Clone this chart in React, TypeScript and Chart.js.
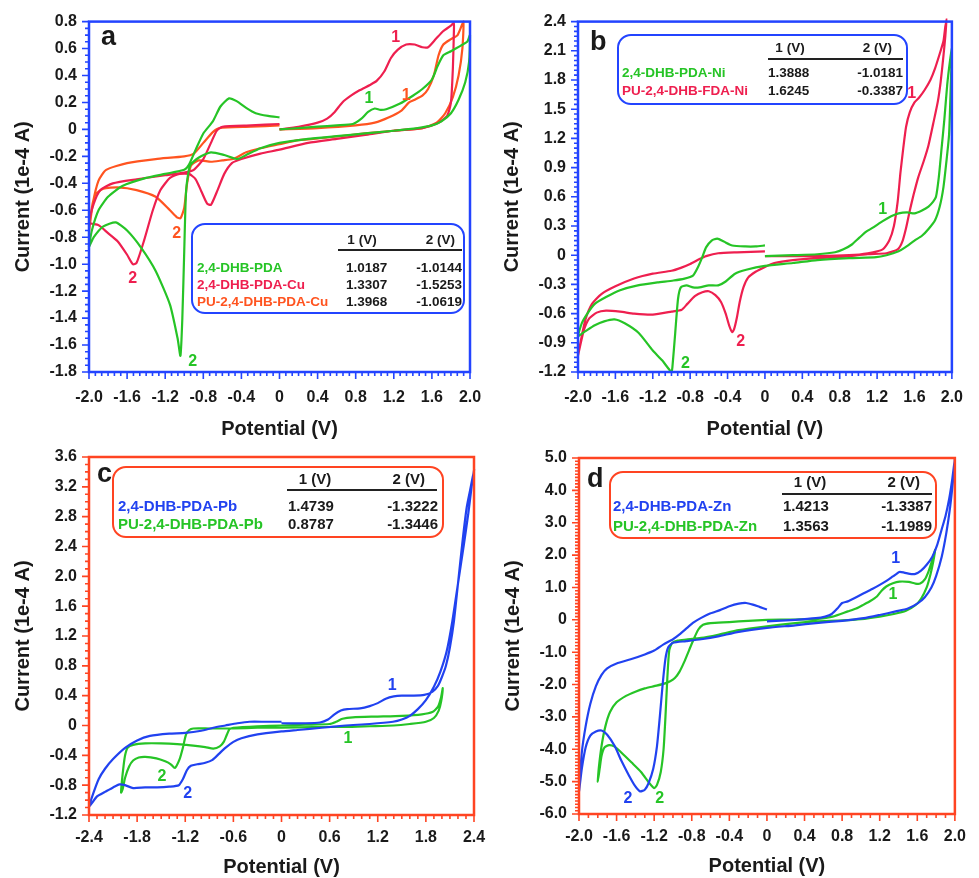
import { useEffect, useRef } from "react";
import { Chart, registerables } from "chart.js";

Chart.register(...registerables);

type Pt = [number, number];

const FONT = "'Liberation Sans', Arial, Helvetica, sans-serif";
const GREEN = "#26c426";
const RED = "#ee1f4f";
const ORANGE = "#ff5420";
const BLUE = "#2142f0";
const FRAME_BLUE = "#2344ff";
const FRAME_RED = "#ff4422";
const TEXT = "#1a1a1a";

// ---------- tick labels ----------
const A_X_TICKS = [-2.0, -1.6, -1.2, -0.8, -0.4, 0, 0.4, 0.8, 1.2, 1.6, 2.0];
const A_Y_TICKS = [-1.8, -1.6, -1.4, -1.2, -1.0, -0.8, -0.6, -0.4, -0.2, 0, 0.2, 0.4, 0.6, 0.8];
const B_X_TICKS = [-2.0, -1.6, -1.2, -0.8, -0.4, 0, 0.4, 0.8, 1.2, 1.6, 2.0];
const B_Y_TICKS = [-1.2, -0.9, -0.6, -0.3, 0, 0.3, 0.6, 0.9, 1.2, 1.5, 1.8, 2.1, 2.4];
const C_X_TICKS = [-2.4, -1.8, -1.2, -0.6, 0, 0.6, 1.2, 1.8, 2.4];
const C_Y_TICKS = [-1.2, -0.8, -0.4, 0, 0.4, 0.8, 1.2, 1.6, 2.0, 2.4, 2.8, 3.2, 3.6];
const D_X_TICKS = [-2.0, -1.6, -1.2, -0.8, -0.4, 0, 0.4, 0.8, 1.2, 1.6, 2.0];
const D_Y_TICKS = [-6, -5, -4, -3, -2, -1, 0, 1, 2, 3, 4, 5];

// ---------- legend tables ----------
const A_NAMES = ["2,4-DHB-PDA", "2,4-DHB-PDA-Cu", "PU-2,4-DHB-PDA-Cu"];
const A_PEAK1 = ["1.0187", "1.3307", "1.3968"];
const A_PEAK2 = ["-1.0144", "-1.5253", "-1.0619"];
const B_NAMES = ["2,4-DHB-PDA-Ni", "PU-2,4-DHB-FDA-Ni"];
const B_PEAK1 = ["1.3888", "1.6245"];
const B_PEAK2 = ["-1.0181", "-0.3387"];
const C_NAMES = ["2,4-DHB-PDA-Pb", "PU-2,4-DHB-PDA-Pb"];
const C_PEAK1 = ["1.4739", "0.8787"];
const C_PEAK2 = ["-1.3222", "-1.3446"];
const D_NAMES = ["2,4-DHB-PDA-Zn", "PU-2,4-DHB-PDA-Zn"];
const D_PEAK1 = ["1.4213", "1.3563"];
const D_PEAK2 = ["-1.3387", "-1.1989"];

// ---------- curves (potential V, current 1e-4 A) ----------
const A_PDA: Pt[] = [
  [0, 0.0], [0.2, 0.01], [0.4, 0.02], [0.6, 0.03], [0.77, 0.04], [0.86, 0.08], [0.93, 0.13], [1.0, 0.155],
  [1.06, 0.145], [1.12, 0.15], [1.26, 0.19], [1.4, 0.25], [1.5, 0.3], [1.6, 0.37], [1.66, 0.47], [1.72, 0.55],
  [1.8, 0.58], [1.9, 0.62], [1.97, 0.65], [2.0, 0.7],
  [1.99, 0.5], [1.95, 0.35], [1.88, 0.22], [1.8, 0.12], [1.7, 0.06], [1.6, 0.03], [1.45, 0.01], [1.2, -0.01],
  [0.9, -0.03], [0.6, -0.05], [0.3, -0.07], [0, -0.1], [-0.2, -0.14], [-0.35, -0.19], [-0.44, -0.22],
  [-0.58, -0.19], [-0.72, -0.17], [-0.85, -0.21], [-0.94, -0.27], [-0.98, -0.45], [-1.0, -0.9], [-1.02, -1.4],
  [-1.04, -1.68], [-1.07, -1.55], [-1.15, -1.3], [-1.3, -1.05], [-1.45, -0.88], [-1.6, -0.75], [-1.72, -0.69],
  [-1.85, -0.72], [-1.95, -0.8], [-2.0, -0.87],
  [-1.97, -0.75], [-1.9, -0.6], [-1.8, -0.5], [-1.65, -0.42], [-1.4, -0.36], [-1.2, -0.33], [-1.0, -0.3],
  [-0.95, -0.26], [-0.88, -0.15], [-0.8, -0.03], [-0.7, 0.06], [-0.62, 0.17], [-0.53, 0.23], [-0.45, 0.21],
  [-0.35, 0.16], [-0.25, 0.12], [-0.12, 0.1], [0, 0.09],
];
const A_CU: Pt[] = [
  [0, 0.0], [0.2, 0.02], [0.4, 0.05], [0.5, 0.08], [0.58, 0.13], [0.66, 0.2], [0.75, 0.25], [0.84, 0.29],
  [0.95, 0.33], [1.02, 0.36], [1.1, 0.43], [1.17, 0.53], [1.24, 0.59], [1.33, 0.63], [1.42, 0.63], [1.5, 0.61],
  [1.56, 0.61], [1.64, 0.67], [1.72, 0.73], [1.8, 0.77], [1.83, 0.79],
  [1.83, 0.7], [1.82, 0.45], [1.8, 0.2], [1.76, 0.1], [1.67, 0.05], [1.5, 0.01], [1.2, -0.01], [0.9, -0.04],
  [0.6, -0.07], [0.3, -0.1], [0, -0.15], [-0.2, -0.18], [-0.4, -0.22], [-0.5, -0.25], [-0.58, -0.33],
  [-0.65, -0.45], [-0.72, -0.56], [-0.76, -0.55], [-0.82, -0.46], [-0.88, -0.37], [-0.95, -0.33],
  [-1.05, -0.33], [-1.15, -0.36], [-1.25, -0.45], [-1.33, -0.6], [-1.42, -0.82], [-1.5, -0.99], [-1.54, -1.0],
  [-1.6, -0.93], [-1.7, -0.83], [-1.8, -0.77], [-1.9, -0.71], [-2.0, -0.69],
  [-1.95, -0.55], [-1.88, -0.45], [-1.75, -0.4], [-1.5, -0.37], [-1.2, -0.34], [-1.0, -0.32], [-0.9, -0.3],
  [-0.8, -0.22], [-0.72, -0.1], [-0.66, -0.01], [-0.6, 0.02], [-0.3, 0.03], [0, 0.04],
];
const A_PU_CU: Pt[] = [
  [0, 0.0], [0.4, 0.01], [0.8, 0.03], [1.0, 0.05], [1.15, 0.09], [1.28, 0.14], [1.36, 0.2], [1.42, 0.22],
  [1.5, 0.25], [1.56, 0.3], [1.62, 0.4], [1.67, 0.55], [1.72, 0.63], [1.8, 0.67], [1.87, 0.7], [1.93, 0.8],
  [1.92, 0.6], [1.88, 0.4], [1.82, 0.24], [1.74, 0.12], [1.65, 0.05], [1.5, 0.01], [1.2, -0.01], [0.9, -0.03],
  [0.5, -0.06], [0.2, -0.08], [0, -0.11], [-0.2, -0.14], [-0.35, -0.17], [-0.49, -0.22], [-0.6, -0.23],
  [-0.72, -0.24], [-0.85, -0.23], [-0.93, -0.27], [-0.97, -0.4], [-1.0, -0.58], [-1.04, -0.66], [-1.08, -0.65],
  [-1.15, -0.6], [-1.3, -0.5], [-1.5, -0.45], [-1.7, -0.43], [-1.85, -0.44], [-1.93, -0.48], [-1.97, -0.58],
  [-2.0, -0.76],
  [-1.96, -0.55], [-1.9, -0.38], [-1.82, -0.3], [-1.6, -0.25], [-1.3, -0.22], [-1.0, -0.2], [-0.9, -0.18],
  [-0.8, -0.1], [-0.7, -0.02], [-0.63, 0.01], [-0.3, 0.02], [0, 0.03],
];
const B_NI: Pt[] = [
  [0, -0.01], [0.3, 0.0], [0.56, 0.01], [0.75, 0.03], [0.84, 0.06], [0.93, 0.11], [1.01, 0.18], [1.08, 0.24],
  [1.15, 0.28], [1.26, 0.35], [1.35, 0.4], [1.43, 0.43], [1.52, 0.44], [1.6, 0.43], [1.68, 0.46], [1.75, 0.5],
  [1.8, 0.55], [1.83, 0.6], [1.86, 0.8], [1.89, 1.1], [1.92, 1.4], [1.95, 1.75], [1.98, 2.0], [2.0, 2.12],
  [1.99, 1.8], [1.97, 1.24], [1.94, 0.95], [1.91, 0.7], [1.87, 0.5], [1.82, 0.36], [1.75, 0.27], [1.68, 0.2],
  [1.6, 0.15], [1.5, 0.08], [1.43, 0.04], [1.3, 0.0], [1.19, -0.02], [0.9, -0.03], [0.56, -0.05], [0.3, -0.08],
  [0, -0.11], [-0.2, -0.15], [-0.32, -0.19], [-0.42, -0.27], [-0.5, -0.31], [-0.6, -0.31], [-0.7, -0.33],
  [-0.77, -0.33], [-0.84, -0.31], [-0.9, -0.33], [-0.93, -0.45], [-0.96, -0.8], [-0.99, -1.15], [-1.0, -1.2],
  [-1.1, -1.08], [-1.2, -0.98], [-1.35, -0.8], [-1.5, -0.7], [-1.61, -0.66], [-1.72, -0.68], [-1.82, -0.72],
  [-1.92, -0.78], [-2.0, -0.83],
  [-1.96, -0.7], [-1.9, -0.6], [-1.82, -0.5], [-1.7, -0.43], [-1.55, -0.36], [-1.36, -0.31], [-1.15, -0.28],
  [-0.98, -0.26], [-0.86, -0.24], [-0.77, -0.21], [-0.72, -0.13], [-0.67, -0.02], [-0.63, 0.08], [-0.57, 0.15],
  [-0.51, 0.17], [-0.44, 0.14], [-0.35, 0.1], [-0.21, 0.09], [-0.1, 0.09], [0, 0.1],
];
const B_PU_NI: Pt[] = [
  [0, -0.01], [0.3, -0.01], [0.56, -0.01], [0.9, 0.0], [1.1, 0.02], [1.26, 0.06], [1.33, 0.15], [1.38, 0.3],
  [1.42, 0.55], [1.45, 0.85], [1.48, 1.1], [1.51, 1.32], [1.55, 1.47], [1.6, 1.57], [1.65, 1.62], [1.71, 1.7],
  [1.77, 1.8], [1.82, 1.92], [1.87, 2.07], [1.91, 2.2], [1.93, 2.35], [1.94, 2.4],
  [1.93, 2.25], [1.91, 2.05], [1.88, 1.78], [1.85, 1.58], [1.8, 1.35], [1.75, 1.13], [1.7, 0.97], [1.64, 0.8],
  [1.59, 0.62], [1.55, 0.46], [1.51, 0.28], [1.47, 0.14], [1.42, 0.06], [1.3, 0.02], [1.1, 0.01], [0.8, -0.02],
  [0.56, -0.03], [0.3, -0.05], [0.1, -0.08], [0, -0.12], [-0.1, -0.17], [-0.18, -0.23], [-0.23, -0.33],
  [-0.27, -0.48], [-0.3, -0.64], [-0.33, -0.76], [-0.35, -0.79], [-0.38, -0.73], [-0.42, -0.6], [-0.47, -0.48],
  [-0.53, -0.41], [-0.6, -0.37], [-0.67, -0.38], [-0.75, -0.42], [-0.83, -0.5], [-0.89, -0.56], [-1.0, -0.58],
  [-1.2, -0.61], [-1.4, -0.6], [-1.55, -0.58], [-1.7, -0.57], [-1.8, -0.59], [-1.88, -0.65], [-1.94, -0.78],
  [-2.0, -1.03],
  [-1.97, -0.88], [-1.92, -0.66], [-1.85, -0.5], [-1.75, -0.4], [-1.6, -0.32], [-1.4, -0.24], [-1.2, -0.19],
  [-1.0, -0.16], [-0.9, -0.13], [-0.8, -0.09], [-0.7, -0.04], [-0.63, -0.01], [-0.5, 0.02], [-0.3, 0.03], [0, 0.04],
];
const C_PB: Pt[] = [
  [0, 0.03], [0.3, 0.03], [0.48, 0.04], [0.58, 0.08], [0.66, 0.15], [0.74, 0.2], [0.82, 0.22], [0.98, 0.23],
  [1.1, 0.26], [1.2, 0.3], [1.3, 0.36], [1.4, 0.39], [1.5, 0.4], [1.65, 0.4], [1.78, 0.41], [1.88, 0.45],
  [1.95, 0.53], [2.0, 0.65], [2.05, 0.8], [2.1, 1.05], [2.15, 1.4], [2.2, 1.9], [2.26, 2.5], [2.31, 2.93],
  [2.36, 3.2], [2.4, 3.42],
  [2.37, 3.2], [2.33, 2.85], [2.27, 2.4], [2.2, 1.9], [2.13, 1.4], [2.06, 1.0], [1.98, 0.72], [1.9, 0.52],
  [1.8, 0.34], [1.7, 0.22], [1.6, 0.13], [1.5, 0.08], [1.39, 0.05], [1.1, 0.02], [0.8, 0.0], [0.5, -0.03],
  [0.2, -0.06], [0, -0.08], [-0.3, -0.12], [-0.5, -0.17], [-0.6, -0.22], [-0.7, -0.3], [-0.78, -0.38],
  [-0.86, -0.46], [-0.95, -0.5], [-1.05, -0.52], [-1.13, -0.54], [-1.18, -0.6], [-1.23, -0.72], [-1.28, -0.8],
  [-1.4, -0.82], [-1.55, -0.83], [-1.7, -0.83], [-1.85, -0.84], [-1.95, -0.8], [-2.02, -0.79], [-2.1, -0.83],
  [-2.2, -0.89], [-2.3, -0.95], [-2.4, -1.09],
  [-2.35, -0.92], [-2.28, -0.72], [-2.2, -0.58], [-2.1, -0.45], [-1.95, -0.3], [-1.8, -0.2], [-1.64, -0.14],
  [-1.4, -0.11], [-1.2, -0.1], [-1.0, -0.07], [-0.85, -0.03], [-0.7, 0.0], [-0.55, 0.03], [-0.4, 0.05],
  [-0.2, 0.05], [0, 0.05],
];
const C_PU_PB: Pt[] = [
  [0, 0.0], [0.3, 0.01], [0.6, 0.02], [0.68, 0.05], [0.76, 0.09], [0.89, 0.11], [1.2, 0.12], [1.5, 0.13],
  [1.75, 0.15], [1.88, 0.18], [1.95, 0.25], [1.99, 0.38], [2.01, 0.5],
  [1.99, 0.32], [1.96, 0.2], [1.9, 0.1], [1.8, 0.05], [1.6, 0.02], [1.4, 0.0], [1.1, -0.01], [0.8, -0.02],
  [0.4, -0.02], [0, -0.03], [-0.3, -0.03], [-0.6, -0.04], [-0.9, -0.04], [-1.1, -0.04], [-1.15, -0.06],
  [-1.19, -0.12], [-1.23, -0.3], [-1.27, -0.45], [-1.33, -0.57], [-1.38, -0.52], [-1.45, -0.48], [-1.56, -0.44],
  [-1.7, -0.42], [-1.78, -0.43], [-1.85, -0.47], [-1.9, -0.55], [-1.95, -0.7], [-1.98, -0.85], [-2.0, -0.9],
  [-1.99, -0.75], [-1.97, -0.55], [-1.95, -0.4], [-1.92, -0.3], [-1.85, -0.26], [-1.7, -0.24], [-1.5, -0.24],
  [-1.3, -0.25], [-1.1, -0.27], [-0.95, -0.29], [-0.85, -0.31], [-0.77, -0.28], [-0.72, -0.22], [-0.68, -0.12],
  [-0.65, -0.05], [-0.6, -0.03], [-0.3, -0.01], [0, 0.0],
];
const D_ZN: Pt[] = [
  [0, -0.05], [0.3, 0.0], [0.52, 0.05], [0.62, 0.1], [0.69, 0.18], [0.75, 0.35], [0.8, 0.52], [0.86, 0.57],
  [0.95, 0.7], [1.03, 0.82], [1.12, 0.95], [1.2, 1.08], [1.28, 1.22], [1.34, 1.34], [1.41, 1.48], [1.46, 1.46],
  [1.52, 1.42], [1.58, 1.42], [1.64, 1.52], [1.7, 1.7], [1.76, 1.95], [1.81, 2.3], [1.86, 2.8], [1.9, 3.2],
  [1.94, 3.75], [1.97, 4.3], [2.0, 4.98],
  [1.98, 4.3], [1.95, 3.5], [1.91, 2.7], [1.86, 1.95], [1.8, 1.35], [1.75, 1.0], [1.68, 0.7], [1.6, 0.5],
  [1.5, 0.35], [1.37, 0.26], [1.2, 0.15], [1.03, 0.05], [0.8, -0.03], [0.52, -0.1], [0.3, -0.17], [0, -0.25],
  [-0.3, -0.37], [-0.52, -0.51], [-0.7, -0.6], [-0.86, -0.66], [-1.0, -0.71], [-1.05, -0.85], [-1.08, -1.2],
  [-1.11, -2.0], [-1.14, -3.0], [-1.17, -3.9], [-1.21, -4.6], [-1.26, -5.05], [-1.3, -5.25], [-1.35, -5.3],
  [-1.4, -5.15], [-1.47, -4.8], [-1.55, -4.35], [-1.62, -3.9], [-1.7, -3.55], [-1.76, -3.42], [-1.82, -3.45],
  [-1.88, -3.58], [-1.93, -3.95], [-1.97, -4.6], [-2.0, -5.3],
  [-1.97, -4.1], [-1.93, -3.3], [-1.88, -2.6], [-1.82, -2.05], [-1.76, -1.7], [-1.7, -1.5], [-1.6, -1.35],
  [-1.45, -1.22], [-1.3, -1.07], [-1.2, -0.95], [-1.1, -0.76], [-1.0, -0.6], [-0.93, -0.45], [-0.85, -0.25],
  [-0.78, -0.08], [-0.7, 0.06], [-0.6, 0.2], [-0.5, 0.3], [-0.4, 0.42], [-0.3, 0.5], [-0.22, 0.52],
  [-0.15, 0.47], [-0.08, 0.4], [0, 0.32],
];
const D_PU_ZN: Pt[] = [
  [0, 0.0], [0.3, 0.01], [0.52, 0.02], [0.7, 0.1], [0.86, 0.26], [0.95, 0.35], [1.03, 0.47], [1.1, 0.58],
  [1.17, 0.72], [1.22, 0.9], [1.27, 1.03], [1.34, 1.13], [1.41, 1.18], [1.51, 1.17], [1.58, 1.12], [1.63, 1.12],
  [1.68, 1.25], [1.72, 1.5], [1.76, 1.85], [1.79, 2.16],
  [1.77, 1.8], [1.74, 1.4], [1.7, 1.0], [1.64, 0.65], [1.58, 0.45], [1.48, 0.28], [1.35, 0.18], [1.2, 0.1],
  [1.0, 0.02], [0.8, -0.02], [0.52, -0.05], [0.3, -0.1], [0, -0.2], [-0.3, -0.32], [-0.52, -0.46], [-0.7, -0.56],
  [-0.86, -0.61], [-0.95, -0.64], [-1.01, -0.72], [-1.04, -0.95], [-1.06, -1.8], [-1.08, -3.0], [-1.1, -4.0],
  [-1.13, -4.7], [-1.17, -5.1], [-1.2, -5.2], [-1.25, -5.05], [-1.34, -4.7], [-1.44, -4.41], [-1.55, -4.1],
  [-1.62, -3.92], [-1.68, -3.87], [-1.73, -3.95], [-1.76, -4.2], [-1.78, -4.6], [-1.8, -5.0],
  [-1.79, -4.6], [-1.76, -3.9], [-1.72, -3.3], [-1.67, -2.85], [-1.6, -2.55], [-1.5, -2.35], [-1.4, -2.22],
  [-1.3, -2.12], [-1.2, -2.05], [-1.1, -1.98], [-1.03, -1.9], [-0.98, -1.8], [-0.93, -1.6], [-0.88, -1.3],
  [-0.83, -0.95], [-0.78, -0.6], [-0.73, -0.3], [-0.68, -0.15], [-0.6, -0.1], [-0.4, -0.07], [-0.2, -0.03], [0, 0.0],
];

// ---------- peak labels: [text, potential, current, series index] ----------
const A_MARKS: [string, number, number, number][] = [
  ["1", 1.22, 0.68, 1], ["1", 0.94, 0.23, 0], ["1", 1.33, 0.25, 2],
  ["2", -1.08, -0.77, 2], ["2", -1.54, -1.11, 1], ["2", -0.91, -1.72, 0],
];
const B_MARKS: [string, number, number, number][] = [
  ["1", 1.57, 1.66, 1], ["1", 1.26, 0.47, 0], ["2", -0.26, -0.89, 1], ["2", -0.85, -1.11, 0],
];
const C_MARKS: [string, number, number, number][] = [
  ["1", 1.38, 0.53, 0], ["1", 0.83, -0.17, 1], ["2", -1.49, -0.69, 1], ["2", -1.17, -0.91, 0],
];
const D_MARKS: [string, number, number, number][] = [
  ["1", 1.37, 1.9, 0], ["1", 1.34, 0.77, 1], ["2", -1.48, -5.52, 0], ["2", -1.14, -5.52, 1],
];

type LegendLayout = {
  box: [number, number, number, number];
  headY: number; h1X: number; h2X: number;
  line: [number, number, number];
  rowsY: number[]; nameX: number; c1X: number; c2X: number; font: number;
};

type PanelCfg = {
  letter: string;
  letterPos: [number, number];
  area: { l: number; r: number; t: number; b: number };
  frame: string;
  xTicks: number[]; yTicks: number[];
  xMinor: number; yMinor: number;
  series: { name: string; pts: Pt[]; color: string }[];
  names: string[]; p1: string[]; p2: string[];
  legend: LegendLayout;
  marks: [string, number, number, number][];
  xLabelPad: number; xTitleOff: number;
};

const PANELS: PanelCfg[] = [
  {
    letter: "a", letterPos: [101, 45], area: { l: 89, r: 470, t: 20, b: 372 }, frame: FRAME_BLUE,
    xTicks: A_X_TICKS, yTicks: A_Y_TICKS, xMinor: 6, yMinor: 4,
    series: [
      { name: A_NAMES[0], pts: A_PDA, color: GREEN },
      { name: A_NAMES[1], pts: A_CU, color: RED },
      { name: A_NAMES[2], pts: A_PU_CU, color: ORANGE },
    ],
    names: A_NAMES, p1: A_PEAK1, p2: A_PEAK2,
    legend: { box: [192, 224, 272, 89], headY: 240, h1X: 362, h2X: 455, line: [338, 462, 250], rowsY: [268, 285, 302], nameX: 197, c1X: 346, c2X: 462, font: 13.5 },
    marks: A_MARKS, xLabelPad: 16, xTitleOff: 57,
  },
  {
    letter: "b", letterPos: [590, 50], area: { l: 578, r: 961, t: 19, b: 372 }, frame: FRAME_BLUE,
    xTicks: B_X_TICKS, yTicks: B_Y_TICKS, xMinor: 6, yMinor: 6,
    series: [
      { name: B_NAMES[0], pts: B_NI, color: GREEN },
      { name: B_NAMES[1], pts: B_PU_NI, color: RED },
    ],
    names: B_NAMES, p1: B_PEAK1, p2: B_PEAK2,
    legend: { box: [618, 35, 289, 69], headY: 48, h1X: 790, h2X: 892, line: [768, 903, 59], rowsY: [73, 91], nameX: 622, c1X: 768, c2X: 903, font: 13.5 },
    marks: B_MARKS, xLabelPad: 16, xTitleOff: 57,
  },
  {
    letter: "c", letterPos: [97, 482], area: { l: 89, r: 474, t: 457, b: 815 }, frame: FRAME_RED,
    xTicks: C_X_TICKS, yTicks: C_Y_TICKS, xMinor: 6, yMinor: 4,
    series: [
      { name: C_NAMES[0], pts: C_PB, color: BLUE },
      { name: C_NAMES[1], pts: C_PU_PB, color: GREEN },
    ],
    names: C_NAMES, p1: C_PEAK1, p2: C_PEAK2,
    legend: { box: [113, 467, 330, 70], headY: 480, h1X: 315, h2X: 425, line: [287, 437, 490], rowsY: [507, 525], nameX: 118, c1X: 288, c2X: 438, font: 15 },
    marks: C_MARKS, xLabelPad: 13, xTitleOff: 52,
  },
  {
    letter: "d", letterPos: [587, 487], area: { l: 579, r: 967, t: 458, b: 814 }, frame: FRAME_RED,
    xTicks: D_X_TICKS, yTicks: D_Y_TICKS, xMinor: 4, yMinor: 10,
    series: [
      { name: D_NAMES[0], pts: D_ZN, color: BLUE },
      { name: D_NAMES[1], pts: D_PU_ZN, color: GREEN },
    ],
    names: D_NAMES, p1: D_PEAK1, p2: D_PEAK2,
    legend: { box: [610, 472, 326, 66], headY: 483, h1X: 810, h2X: 920, line: [782, 932, 494], rowsY: [507, 527], nameX: 613, c1X: 783, c2X: 932, font: 15 },
    marks: D_MARKS, xLabelPad: 13, xTitleOff: 52,
  },
];

const W = 979;
const H = 878;
const Y_AXIS_W = 89;
const X_AXIS_H = 40;

const fmt = (v: number | string) => {
  const n = Number(v);
  if (Math.abs(n) < 1e-9) return "0";
  return n.toFixed(1);
};

function buildChart(canvas: HTMLCanvasElement, cfg: PanelCfg) {
  const { l, r, t, b } = cfg.area;
  const decor = {
    id: "decor_" + cfg.letter,
    afterDraw(chart: any) {
      const ctx: CanvasRenderingContext2D = chart.ctx;
      const ca = chart.chartArea;
      const xs = chart.scales.x;
      const ys = chart.scales.y;
      ctx.save();
      // frame
      ctx.strokeStyle = cfg.frame;
      ctx.lineWidth = 2.5;
      ctx.strokeRect(ca.left, ca.top, ca.right - ca.left, ca.bottom - ca.top);
      // ticks
      ctx.lineWidth = 1.6;
      ctx.beginPath();
      const xt = cfg.xTicks;
      for (let i = 0; i < xt.length; i++) {
        const px = xs.getPixelForValue(xt[i]);
        ctx.moveTo(px, ca.bottom);
        ctx.lineTo(px, ca.bottom + 7);
        if (i < xt.length - 1) {
          for (let k = 1; k < cfg.xMinor; k++) {
            const p = xs.getPixelForValue(xt[i] + ((xt[i + 1] - xt[i]) * k) / cfg.xMinor);
            ctx.moveTo(p, ca.bottom);
            ctx.lineTo(p, ca.bottom + 4);
          }
        }
      }
      const yt = cfg.yTicks;
      for (let i = 0; i < yt.length; i++) {
        const py = ys.getPixelForValue(yt[i]);
        ctx.moveTo(ca.left, py);
        ctx.lineTo(ca.left - 7, py);
        if (i < yt.length - 1) {
          for (let k = 1; k < cfg.yMinor; k++) {
            const p = ys.getPixelForValue(yt[i] + ((yt[i + 1] - yt[i]) * k) / cfg.yMinor);
            ctx.moveTo(ca.left, p);
            ctx.lineTo(ca.left - 4, p);
          }
        }
      }
      ctx.stroke();

      // axis titles
      ctx.fillStyle = TEXT;
      ctx.font = `bold 20px ${FONT}`;
      ctx.textAlign = "center";
      ctx.textBaseline = "middle";
      ctx.fillText("Potential (V)", (ca.left + ca.right) / 2, ca.bottom + cfg.xTitleOff);
      ctx.save();
      ctx.translate(ca.left - 66, (ca.top + ca.bottom) / 2);
      ctx.rotate(-Math.PI / 2);
      ctx.fillText("Current (1e-4 A)", 0, 0);
      ctx.restore();

      // panel letter
      ctx.font = `bold 27px ${FONT}`;
      ctx.textAlign = "left";
      ctx.textBaseline = "alphabetic";
      ctx.fillText(cfg.letter, cfg.letterPos[0], cfg.letterPos[1]);

      // peak labels
      ctx.font = `bold 16px ${FONT}`;
      ctx.textAlign = "center";
      ctx.textBaseline = "middle";
      cfg.marks.forEach(([txt, vx, vy, si]) => {
        ctx.fillStyle = cfg.series[si].color;
        ctx.fillText(txt, xs.getPixelForValue(vx), ys.getPixelForValue(vy));
      });

      // legend table box
      const lg = cfg.legend;
      const [bx, by, bw, bh] = lg.box;
      ctx.beginPath();
      (ctx as any).roundRect(bx, by, bw, bh, 13);
      ctx.fillStyle = "#ffffff";
      ctx.fill();
      ctx.lineWidth = 2;
      ctx.strokeStyle = cfg.frame;
      ctx.stroke();

      ctx.font = `bold ${lg.font}px ${FONT}`;
      ctx.fillStyle = TEXT;
      ctx.textBaseline = "middle";
      ctx.textAlign = "center";
      ctx.fillText("1 (V)", lg.h1X, lg.headY);
      ctx.textAlign = "right";
      ctx.fillText("2 (V)", lg.h2X, lg.headY);
      ctx.beginPath();
      ctx.lineWidth = 2;
      ctx.strokeStyle = "#222";
      ctx.moveTo(lg.line[0], lg.line[2]);
      ctx.lineTo(lg.line[1], lg.line[2]);
      ctx.stroke();
      cfg.names.forEach((nm, i) => {
        const y = lg.rowsY[i];
        ctx.textAlign = "left";
        ctx.fillStyle = cfg.series[i].color;
        ctx.fillText(nm, lg.nameX, y);
        ctx.fillStyle = TEXT;
        ctx.fillText(cfg.p1[i], lg.c1X, y);
        ctx.textAlign = "right";
        ctx.fillText(cfg.p2[i], lg.c2X, y);
      });
      ctx.restore();
    },
  };

  const tickFont = { family: FONT, size: 16, weight: "bold" as const };

  return new Chart(canvas, {
    type: "scatter",
    data: {
      datasets: cfg.series.map((s) => ({
        label: s.name,
        data: s.pts.map(([x, y]) => ({ x, y })),
        showLine: true,
        borderColor: s.color,
        backgroundColor: s.color,
        borderWidth: 2.2,
        pointRadius: 0,
        pointHoverRadius: 0,
        tension: 0.2,
        fill: false,
        clip: 3,
      })),
    },
    options: {
      responsive: false,
      animation: false,
      events: [],
      layout: {
        autoPadding: false,
        padding: {
          left: l - Y_AXIS_W,
          right: W - r,
          top: t,
          bottom: H - b - X_AXIS_H,
        },
      },
      plugins: { legend: { display: false }, tooltip: { enabled: false }, title: { display: false } },
      scales: {
        x: {
          type: "linear",
          min: cfg.xTicks[0],
          max: cfg.xTicks[cfg.xTicks.length - 1],
          afterBuildTicks: (sc: any) => {
            sc.ticks = cfg.xTicks.map((v) => ({ value: v }));
          },
          afterFit: (sc: any) => {
            sc.height = X_AXIS_H;
          },
          grid: { display: false, drawTicks: false },
          border: { display: false },
          ticks: {
            autoSkip: false,
            maxRotation: 0,
            padding: cfg.xLabelPad,
            color: TEXT,
            font: tickFont,
            callback: (v: any) => fmt(v),
          },
        },
        y: {
          type: "linear",
          min: cfg.yTicks[0],
          max: cfg.yTicks[cfg.yTicks.length - 1],
          afterBuildTicks: (sc: any) => {
            sc.ticks = cfg.yTicks.map((v) => ({ value: v }));
          },
          afterFit: (sc: any) => {
            sc.width = Y_AXIS_W;
          },
          grid: { display: false, drawTicks: false },
          border: { display: false },
          ticks: {
            autoSkip: false,
            padding: 12,
            color: TEXT,
            font: tickFont,
            callback: (v: any) => fmt(v),
          },
        },
      },
    },
    plugins: [decor],
  } as any);
}

function Panel({ cfg }: { cfg: PanelCfg }) {
  const ref = useRef<HTMLCanvasElement | null>(null);
  useEffect(() => {
    if (!ref.current) return;
    const chart = buildChart(ref.current, cfg);
    return () => chart.destroy();
  }, [cfg]);
  return (
    <canvas
      ref={ref}
      width={W}
      height={H}
      style={{ position: "absolute", left: 0, top: 0, width: W, height: H }}
    />
  );
}

export default function App() {
  return (
    <div
      style={{
        position: "absolute",
        left: 0,
        top: 0,
        width: W,
        height: H,
        background: "#ffffff",
        overflow: "hidden",
      }}
    >
      {PANELS.map((p) => (
        <Panel key={p.letter} cfg={p} />
      ))}
    </div>
  );
}
